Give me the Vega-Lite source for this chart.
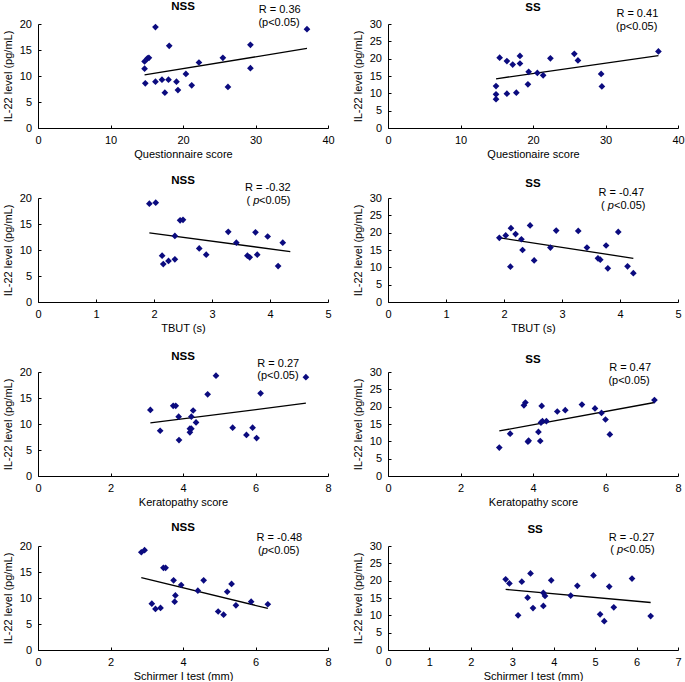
{
  "$schema": "https://vega.github.io/schema/vega-lite/v6.json",
  "padding": {"left": 2, "top": 0, "right": 2, "bottom": 0},
  "background": "white",
  "bounds": "flush",
  "spacing": {"row": 70, "column": 60},
  "columns": 2,
  "datasets": {
    "pts": [
      {"p":1,"x":14.7,"y":12.8},{"p":1,"x":15.1,"y":13.4},{"p":1,"x":15.3,"y":13.5},{"p":1,"x":14.7,"y":11.4},{"p":1,"x":14.8,"y":8.6},
      {"p":1,"x":16.2,"y":19.4},{"p":1,"x":16.2,"y":8.9},{"p":1,"x":17.1,"y":9.3},{"p":1,"x":17.5,"y":6.8},{"p":1,"x":18.0,"y":9.3},
      {"p":1,"x":18.1,"y":15.8},{"p":1,"x":19.1,"y":8.9},{"p":1,"x":19.3,"y":7.3},{"p":1,"x":20.4,"y":10.4},{"p":1,"x":21.2,"y":8.2},
      {"p":1,"x":22.2,"y":12.6},{"p":1,"x":25.5,"y":13.5},{"p":1,"x":26.2,"y":7.9},{"p":1,"x":29.3,"y":16.0},{"p":1,"x":29.3,"y":11.5},
      {"p":1,"x":37.1,"y":19.0},
      {"p":2,"x":14.9,"y":8.3},{"p":2,"x":14.9,"y":9.7},{"p":2,"x":14.9,"y":12.1},{"p":2,"x":15.4,"y":20.3},{"p":2,"x":16.4,"y":19.3},
      {"p":2,"x":16.4,"y":9.9},{"p":2,"x":17.2,"y":18.3},{"p":2,"x":17.7,"y":10.2},{"p":2,"x":18.2,"y":20.8},{"p":2,"x":18.2,"y":18.6},
      {"p":2,"x":19.3,"y":12.6},{"p":2,"x":19.4,"y":16.2},{"p":2,"x":20.6,"y":15.9},{"p":2,"x":21.4,"y":15.2},{"p":2,"x":22.4,"y":20.1},
      {"p":2,"x":25.7,"y":21.4},{"p":2,"x":26.2,"y":19.5},{"p":2,"x":29.4,"y":15.6},{"p":2,"x":29.5,"y":12.0},{"p":2,"x":37.3,"y":22.1},
      {"p":3,"x":1.92,"y":18.9},{"p":3,"x":2.03,"y":19.1},{"p":3,"x":2.14,"y":8.9},{"p":3,"x":2.16,"y":7.3},{"p":3,"x":2.25,"y":7.9},
      {"p":3,"x":2.36,"y":8.2},{"p":3,"x":2.36,"y":12.7},{"p":3,"x":2.45,"y":15.7},{"p":3,"x":2.50,"y":15.8},{"p":3,"x":2.78,"y":10.3},
      {"p":3,"x":2.90,"y":9.1},{"p":3,"x":3.28,"y":13.5},{"p":3,"x":3.42,"y":11.4},{"p":3,"x":3.61,"y":8.9},{"p":3,"x":3.65,"y":8.6},
      {"p":3,"x":3.75,"y":13.4},{"p":3,"x":3.78,"y":9.1},{"p":3,"x":3.96,"y":12.6},{"p":3,"x":4.14,"y":6.9},{"p":3,"x":4.22,"y":11.4},
      {"p":4,"x":1.92,"y":18.5},{"p":4,"x":2.03,"y":19.2},{"p":4,"x":2.12,"y":21.3},{"p":4,"x":2.11,"y":10.2},{"p":4,"x":2.2,"y":19.6},
      {"p":4,"x":2.3,"y":18.1},{"p":4,"x":2.32,"y":15.0},{"p":4,"x":2.45,"y":22.1},{"p":4,"x":2.52,"y":12.0},{"p":4,"x":2.8,"y":15.7},
      {"p":4,"x":2.9,"y":20.6},{"p":4,"x":3.28,"y":20.5},{"p":4,"x":3.43,"y":15.7},{"p":4,"x":3.62,"y":12.6},{"p":4,"x":3.66,"y":12.2},
      {"p":4,"x":3.76,"y":16.3},{"p":4,"x":3.79,"y":9.7},{"p":4,"x":3.97,"y":20.2},{"p":4,"x":4.13,"y":10.3},{"p":4,"x":4.23,"y":8.3},
      {"p":5,"x":3.10,"y":12.7},{"p":5,"x":3.37,"y":8.7},{"p":5,"x":3.73,"y":13.5},{"p":5,"x":3.80,"y":13.5},{"p":5,"x":3.88,"y":11.4},
      {"p":5,"x":3.89,"y":6.9},{"p":5,"x":4.19,"y":9.1},{"p":5,"x":4.19,"y":8.4},{"p":5,"x":4.23,"y":9.1},{"p":5,"x":4.23,"y":11.4},
      {"p":5,"x":4.28,"y":12.6},{"p":5,"x":4.36,"y":10.3},{"p":5,"x":4.68,"y":15.7},{"p":5,"x":4.91,"y":19.3},{"p":5,"x":5.37,"y":9.3},
      {"p":5,"x":5.75,"y":7.9},{"p":5,"x":5.92,"y":9.3},{"p":5,"x":6.03,"y":7.3},{"p":5,"x":6.14,"y":15.9},{"p":5,"x":7.39,"y":19.0},
      {"p":6,"x":3.07,"y":8.2},{"p":6,"x":3.37,"y":12.2},{"p":6,"x":3.75,"y":20.4},{"p":6,"x":3.79,"y":21.2},{"p":6,"x":3.86,"y":9.9},
      {"p":6,"x":3.88,"y":10.2},{"p":6,"x":4.15,"y":12.7},{"p":6,"x":4.2,"y":10.1},{"p":6,"x":4.22,"y":15.4},{"p":6,"x":4.24,"y":20.2},
      {"p":6,"x":4.26,"y":15.8},{"p":6,"x":4.37,"y":15.8},{"p":6,"x":4.67,"y":18.6},{"p":6,"x":4.89,"y":19.0},{"p":6,"x":5.35,"y":20.6},
      {"p":6,"x":5.71,"y":19.5},{"p":6,"x":5.89,"y":18.2},{"p":6,"x":6.0,"y":16.3},{"p":6,"x":6.12,"y":12.0},{"p":6,"x":7.35,"y":21.9},
      {"p":7,"x":2.85,"y":18.8},{"p":7,"x":2.94,"y":19.2},{"p":7,"x":3.14,"y":8.9},{"p":7,"x":3.24,"y":7.9},{"p":7,"x":3.38,"y":8.1},
      {"p":7,"x":3.46,"y":15.8},{"p":7,"x":3.52,"y":15.8},{"p":7,"x":3.74,"y":13.4},{"p":7,"x":3.77,"y":9.3},{"p":7,"x":3.79,"y":10.5},
      {"p":7,"x":3.95,"y":12.5},{"p":7,"x":4.41,"y":11.4},{"p":7,"x":4.57,"y":13.4},{"p":7,"x":4.97,"y":7.4},{"p":7,"x":5.12,"y":6.8},
      {"p":7,"x":5.22,"y":11.2},{"p":7,"x":5.34,"y":12.7},{"p":7,"x":5.46,"y":8.6},{"p":7,"x":5.88,"y":9.3},{"p":7,"x":6.34,"y":8.8},
      {"p":8,"x":2.84,"y":20.4},{"p":8,"x":2.93,"y":19.2},{"p":8,"x":3.14,"y":10.0},{"p":8,"x":3.23,"y":19.7},{"p":8,"x":3.37,"y":15.1},
      {"p":8,"x":3.44,"y":22.1},{"p":8,"x":3.5,"y":12.1},{"p":8,"x":3.75,"y":16.5},{"p":8,"x":3.75,"y":12.7},{"p":8,"x":3.79,"y":15.6},
      {"p":8,"x":3.94,"y":20.1},{"p":8,"x":4.41,"y":15.7},{"p":8,"x":4.57,"y":18.5},{"p":8,"x":4.96,"y":21.5},{"p":8,"x":5.12,"y":10.3},
      {"p":8,"x":5.22,"y":8.3},{"p":8,"x":5.34,"y":18.3},{"p":8,"x":5.45,"y":12.3},{"p":8,"x":5.89,"y":20.6},{"p":8,"x":6.34,"y":9.8}
    ],
    "fit": [
      {"p":1,"x":14.7,"y":10.2},{"p":1,"x":37.1,"y":15.3},
      {"p":2,"x":14.9,"y":14.2},{"p":2,"x":37.3,"y":20.9},
      {"p":3,"x":1.92,"y":13.3},{"p":3,"x":4.35,"y":9.7},
      {"p":4,"x":1.93,"y":18.5},{"p":4,"x":4.23,"y":12.6},
      {"p":5,"x":3.1,"y":10.2},{"p":5,"x":7.39,"y":14.0},
      {"p":6,"x":3.07,"y":13.0},{"p":6,"x":7.35,"y":21.2},
      {"p":7,"x":2.85,"y":13.9},{"p":7,"x":6.34,"y":8.0},
      {"p":8,"x":2.84,"y":17.5},{"p":8,"x":6.34,"y":13.7}
    ],
    "titles": [
      {"p":1,"x":20,"y":23.3,"t":"NSS"},
      {"p":2,"x":20,"y":34.5,"t":"SS"},
      {"p":3,"x":2.5,"y":23.3,"t":"NSS"},
      {"p":4,"x":2.5,"y":34.0,"t":"SS"},
      {"p":5,"x":4,"y":22.9,"t":"NSS"},
      {"p":6,"x":4,"y":33.4,"t":"SS"},
      {"p":7,"x":4,"y":23.5,"t":"NSS"},
      {"p":8,"x":3.55,"y":34.5,"t":"SS"}
    ],
    "ann": [
      {"p":1,"x":30.45,"y":22.7,"t":"R = 0.36"},{"p":1,"x":30.4,"y":20.25,"t":"(p<0.05)"},
      {"p":2,"x":31.5,"y":32.8,"t":"R = 0.41"},{"p":2,"x":31.45,"y":29.2,"t":"(p<0.05)"},
      {"p":3,"x":3.57,"y":22.0,"t":"R = -0.32"},{"p":3,"x":3.595,"y":19.35,"t":"("},{"p":3,"x":3.81,"y":19.35,"t":"<0.05)"},
      {"p":4,"x":3.63,"y":31.4,"t":"R = -0.47"},{"p":4,"x":3.674,"y":27.7,"t":"("},{"p":4,"x":3.896,"y":27.7,"t":"<0.05)"},
      {"p":5,"x":6.05,"y":21.6,"t":"R = 0.27"},{"p":5,"x":6.05,"y":19.2,"t":"(p<0.05)"},
      {"p":6,"x":6.1,"y":31.1,"t":"R = 0.47"},{"p":6,"x":6.08,"y":27.3,"t":"(p<0.05)"},
      {"p":7,"x":6.03,"y":21.6,"t":"R = -0.48"},{"p":7,"x":6.07,"y":19.0,"t":"("},{"p":7,"x":6.34,"y":19.0,"t":"<0.05)"},
      {"p":8,"x":5.33,"y":32.3,"t":"R = -0.27"},{"p":8,"x":5.366,"y":28.8,"t":"("},{"p":8,"x":5.675,"y":28.8,"t":"<0.05)"}
    ],
    "annit": [
      {"p":3,"x":3.71,"y":19.35,"t":"p"},
      {"p":4,"x":3.79,"y":27.7,"t":"p"},
      {"p":7,"x":6.17,"y":19.0,"t":"p"},
      {"p":8,"x":5.528,"y":28.8,"t":"p"}
    ]
  },
  "concat": [
    {
      "width": 290, "height": 104,
      "encoding": {
        "x": {"field": "x", "type": "quantitative", "scale": {"domain": [0, 40]}, "axis": {"title": "Questionnaire score", "values": [0, 10, 20, 30, 40]}},
        "y": {"field": "y", "type": "quantitative", "scale": {"domain": [0, 20]}, "axis": {"title": "IL-22 level (pg/mL)", "values": [0, 5, 10, 15, 20]}}
      },
      "layer": [
        {"data": {"name": "fit"}, "transform": [{"filter": "datum.p == 1"}], "mark": {"type": "line", "color": "black", "strokeWidth": 1.3}},
        {"data": {"name": "pts"}, "transform": [{"filter": "datum.p == 1"}], "mark": {"type": "point", "shape": "diamond", "filled": true, "opacity": 1, "size": 45, "color": "#0b0b7f"}},
        {"data": {"name": "titles"}, "transform": [{"filter": "datum.p == 1"}], "mark": {"type": "text", "align": "center", "baseline": "middle", "fontWeight": "bold", "fontSize": 11.5, "clip": false}, "encoding": {"text": {"field": "t"}}},
        {"data": {"name": "ann"}, "transform": [{"filter": "datum.p == 1"}], "mark": {"type": "text", "align": "left", "baseline": "middle", "clip": false}, "encoding": {"text": {"field": "t"}}}
      ]
    },
    {
      "width": 290, "height": 104,
      "encoding": {
        "x": {"field": "x", "type": "quantitative", "scale": {"domain": [0, 40]}, "axis": {"title": "Questionaire score", "values": [0, 10, 20, 30, 40]}},
        "y": {"field": "y", "type": "quantitative", "scale": {"domain": [0, 30]}, "axis": {"title": "IL-22 level (pg/mL)", "values": [0, 5, 10, 15, 20, 25, 30]}}
      },
      "layer": [
        {"data": {"name": "fit"}, "transform": [{"filter": "datum.p == 2"}], "mark": {"type": "line", "color": "black", "strokeWidth": 1.3}},
        {"data": {"name": "pts"}, "transform": [{"filter": "datum.p == 2"}], "mark": {"type": "point", "shape": "diamond", "filled": true, "opacity": 1, "size": 45, "color": "#0b0b7f"}},
        {"data": {"name": "titles"}, "transform": [{"filter": "datum.p == 2"}], "mark": {"type": "text", "align": "center", "baseline": "middle", "fontWeight": "bold", "fontSize": 11.5, "clip": false}, "encoding": {"text": {"field": "t"}}},
        {"data": {"name": "ann"}, "transform": [{"filter": "datum.p == 2"}], "mark": {"type": "text", "align": "left", "baseline": "middle", "clip": false}, "encoding": {"text": {"field": "t"}}}
      ]
    },
    {
      "width": 290, "height": 104,
      "encoding": {
        "x": {"field": "x", "type": "quantitative", "scale": {"domain": [0, 5]}, "axis": {"title": "TBUT (s)", "values": [0, 1, 2, 3, 4, 5]}},
        "y": {"field": "y", "type": "quantitative", "scale": {"domain": [0, 20]}, "axis": {"title": "IL-22 level (pg/mL)", "values": [0, 5, 10, 15, 20]}}
      },
      "layer": [
        {"data": {"name": "fit"}, "transform": [{"filter": "datum.p == 3"}], "mark": {"type": "line", "color": "black", "strokeWidth": 1.3}},
        {"data": {"name": "pts"}, "transform": [{"filter": "datum.p == 3"}], "mark": {"type": "point", "shape": "diamond", "filled": true, "opacity": 1, "size": 45, "color": "#0b0b7f"}},
        {"data": {"name": "titles"}, "transform": [{"filter": "datum.p == 3"}], "mark": {"type": "text", "align": "center", "baseline": "middle", "fontWeight": "bold", "fontSize": 11.5, "clip": false}, "encoding": {"text": {"field": "t"}}},
        {"data": {"name": "ann"}, "transform": [{"filter": "datum.p == 3"}], "mark": {"type": "text", "align": "left", "baseline": "middle", "clip": false}, "encoding": {"text": {"field": "t"}}},
        {"data": {"name": "annit"}, "transform": [{"filter": "datum.p == 3"}], "mark": {"type": "text", "align": "left", "baseline": "middle", "fontStyle": "italic", "clip": false}, "encoding": {"text": {"field": "t"}}}
      ]
    },
    {
      "width": 290, "height": 104,
      "encoding": {
        "x": {"field": "x", "type": "quantitative", "scale": {"domain": [0, 5]}, "axis": {"title": "TBUT (s)", "values": [0, 1, 2, 3, 4, 5]}},
        "y": {"field": "y", "type": "quantitative", "scale": {"domain": [0, 30]}, "axis": {"title": "IL-22 level (pg/mL)", "values": [0, 5, 10, 15, 20, 25, 30]}}
      },
      "layer": [
        {"data": {"name": "fit"}, "transform": [{"filter": "datum.p == 4"}], "mark": {"type": "line", "color": "black", "strokeWidth": 1.3}},
        {"data": {"name": "pts"}, "transform": [{"filter": "datum.p == 4"}], "mark": {"type": "point", "shape": "diamond", "filled": true, "opacity": 1, "size": 45, "color": "#0b0b7f"}},
        {"data": {"name": "titles"}, "transform": [{"filter": "datum.p == 4"}], "mark": {"type": "text", "align": "center", "baseline": "middle", "fontWeight": "bold", "fontSize": 11.5, "clip": false}, "encoding": {"text": {"field": "t"}}},
        {"data": {"name": "ann"}, "transform": [{"filter": "datum.p == 4"}], "mark": {"type": "text", "align": "left", "baseline": "middle", "clip": false}, "encoding": {"text": {"field": "t"}}},
        {"data": {"name": "annit"}, "transform": [{"filter": "datum.p == 4"}], "mark": {"type": "text", "align": "left", "baseline": "middle", "fontStyle": "italic", "clip": false}, "encoding": {"text": {"field": "t"}}}
      ]
    },
    {
      "width": 290, "height": 104,
      "encoding": {
        "x": {"field": "x", "type": "quantitative", "scale": {"domain": [0, 8]}, "axis": {"title": "Keratopathy score", "values": [0, 2, 4, 6, 8]}},
        "y": {"field": "y", "type": "quantitative", "scale": {"domain": [0, 20]}, "axis": {"title": "IL-22 level (pg/mL)", "values": [0, 5, 10, 15, 20]}}
      },
      "layer": [
        {"data": {"name": "fit"}, "transform": [{"filter": "datum.p == 5"}], "mark": {"type": "line", "color": "black", "strokeWidth": 1.3}},
        {"data": {"name": "pts"}, "transform": [{"filter": "datum.p == 5"}], "mark": {"type": "point", "shape": "diamond", "filled": true, "opacity": 1, "size": 45, "color": "#0b0b7f"}},
        {"data": {"name": "titles"}, "transform": [{"filter": "datum.p == 5"}], "mark": {"type": "text", "align": "center", "baseline": "middle", "fontWeight": "bold", "fontSize": 11.5, "clip": false}, "encoding": {"text": {"field": "t"}}},
        {"data": {"name": "ann"}, "transform": [{"filter": "datum.p == 5"}], "mark": {"type": "text", "align": "left", "baseline": "middle", "clip": false}, "encoding": {"text": {"field": "t"}}}
      ]
    },
    {
      "width": 290, "height": 104,
      "encoding": {
        "x": {"field": "x", "type": "quantitative", "scale": {"domain": [0, 8]}, "axis": {"title": "Keratopathy score", "values": [0, 2, 4, 6, 8]}},
        "y": {"field": "y", "type": "quantitative", "scale": {"domain": [0, 30]}, "axis": {"title": "IL-22 level (pg/mL)", "values": [0, 5, 10, 15, 20, 25, 30]}}
      },
      "layer": [
        {"data": {"name": "fit"}, "transform": [{"filter": "datum.p == 6"}], "mark": {"type": "line", "color": "black", "strokeWidth": 1.3}},
        {"data": {"name": "pts"}, "transform": [{"filter": "datum.p == 6"}], "mark": {"type": "point", "shape": "diamond", "filled": true, "opacity": 1, "size": 45, "color": "#0b0b7f"}},
        {"data": {"name": "titles"}, "transform": [{"filter": "datum.p == 6"}], "mark": {"type": "text", "align": "center", "baseline": "middle", "fontWeight": "bold", "fontSize": 11.5, "clip": false}, "encoding": {"text": {"field": "t"}}},
        {"data": {"name": "ann"}, "transform": [{"filter": "datum.p == 6"}], "mark": {"type": "text", "align": "left", "baseline": "middle", "clip": false}, "encoding": {"text": {"field": "t"}}}
      ]
    },
    {
      "width": 290, "height": 104,
      "encoding": {
        "x": {"field": "x", "type": "quantitative", "scale": {"domain": [0, 8]}, "axis": {"title": "Schirmer I test (mm)", "values": [0, 2, 4, 6, 8]}},
        "y": {"field": "y", "type": "quantitative", "scale": {"domain": [0, 20]}, "axis": {"title": "IL-22 level (pg/mL)", "values": [0, 5, 10, 15, 20]}}
      },
      "layer": [
        {"data": {"name": "fit"}, "transform": [{"filter": "datum.p == 7"}], "mark": {"type": "line", "color": "black", "strokeWidth": 1.3}},
        {"data": {"name": "pts"}, "transform": [{"filter": "datum.p == 7"}], "mark": {"type": "point", "shape": "diamond", "filled": true, "opacity": 1, "size": 45, "color": "#0b0b7f"}},
        {"data": {"name": "titles"}, "transform": [{"filter": "datum.p == 7"}], "mark": {"type": "text", "align": "center", "baseline": "middle", "fontWeight": "bold", "fontSize": 11.5, "clip": false}, "encoding": {"text": {"field": "t"}}},
        {"data": {"name": "ann"}, "transform": [{"filter": "datum.p == 7"}], "mark": {"type": "text", "align": "left", "baseline": "middle", "clip": false}, "encoding": {"text": {"field": "t"}}},
        {"data": {"name": "annit"}, "transform": [{"filter": "datum.p == 7"}], "mark": {"type": "text", "align": "left", "baseline": "middle", "fontStyle": "italic", "clip": false}, "encoding": {"text": {"field": "t"}}}
      ]
    },
    {
      "width": 290, "height": 104,
      "encoding": {
        "x": {"field": "x", "type": "quantitative", "scale": {"domain": [0, 7]}, "axis": {"title": "Schirmer I test (mm)", "values": [0, 1, 2, 3, 4, 5, 6, 7]}},
        "y": {"field": "y", "type": "quantitative", "scale": {"domain": [0, 30]}, "axis": {"title": "IL-22 level (pg/mL)", "values": [0, 5, 10, 15, 20, 25, 30]}}
      },
      "layer": [
        {"data": {"name": "fit"}, "transform": [{"filter": "datum.p == 8"}], "mark": {"type": "line", "color": "black", "strokeWidth": 1.3}},
        {"data": {"name": "pts"}, "transform": [{"filter": "datum.p == 8"}], "mark": {"type": "point", "shape": "diamond", "filled": true, "opacity": 1, "size": 45, "color": "#0b0b7f"}},
        {"data": {"name": "titles"}, "transform": [{"filter": "datum.p == 8"}], "mark": {"type": "text", "align": "center", "baseline": "middle", "fontWeight": "bold", "fontSize": 11.5, "clip": false}, "encoding": {"text": {"field": "t"}}},
        {"data": {"name": "ann"}, "transform": [{"filter": "datum.p == 8"}], "mark": {"type": "text", "align": "left", "baseline": "middle", "clip": false}, "encoding": {"text": {"field": "t"}}},
        {"data": {"name": "annit"}, "transform": [{"filter": "datum.p == 8"}], "mark": {"type": "text", "align": "left", "baseline": "middle", "fontStyle": "italic", "clip": false}, "encoding": {"text": {"field": "t"}}}
      ]
    }
  ],
  "config": {
    "font": "Liberation Sans",
    "view": {"stroke": null},
    "text": {"fontSize": 11, "color": "black"},
    "axis": {
      "grid": false,
      "domainColor": "black",
      "domainWidth": 1,
      "tickColor": "black",
      "tickSize": -3,
      "labelPadding": 9.5,
      "labelColor": "black",
      "labelFontSize": 11,
      "titleColor": "black",
      "titleFontSize": 11,
      "titleFontWeight": "normal",
      "labelFlush": false,
      "labelOverlap": false
    },
    "axisX": {"titlePadding": 2.5},
    "axisY": {"titlePadding": 6}
  }
}
